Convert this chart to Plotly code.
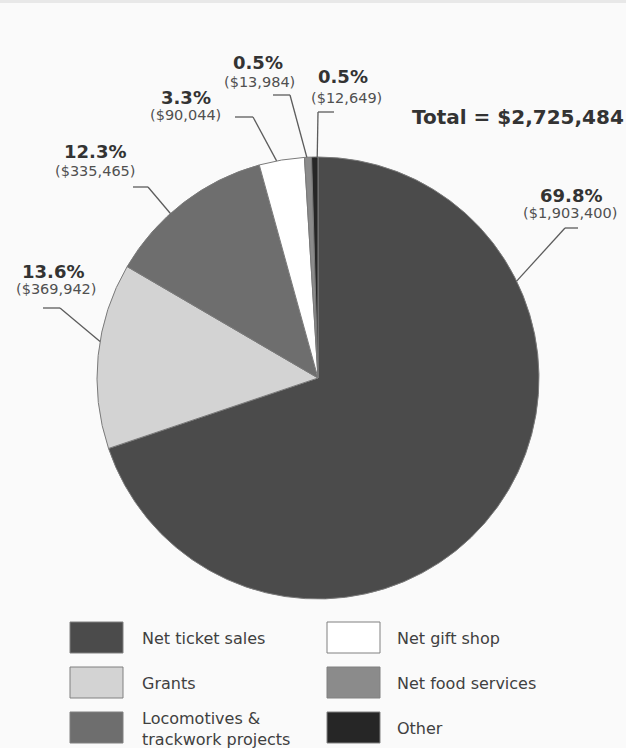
import math
import plotly.graph_objects as go

W, H = 626, 748

# ---- data -------------------------------------------------------------
categories = [
    "Net ticket sales",
    "Grants",
    "Locomotives &<br>trackwork projects",
    "Net gift shop",
    "Net food services",
    "Other",
]
amounts = [1903400, 369942, 335465, 90044, 13984, 12649]
slice_colors = ["#4b4b4b", "#d3d3d3", "#6e6e6e", "#ffffff", "#8b8b8b", "#262626"]

total = sum(amounts)

# ---- layout constants (pixels) ---------------------------------------
CX, CY, R = 318, 378, 221          # pie centre and radius

# per-slice callout: rim angle (deg clockwise from 12 o'clock), elbow, tail end,
# percentage label centre, amount label centre
callouts = [
    dict(rim=64.0,  elbow=(565, 228), tail=(578, 228), pct=(571, 195), amt=(570, 213)),
    dict(rim=279.5, elbow=(60, 308),  tail=(43, 308),  pct=(53, 271),  amt=(56, 289)),
    dict(rim=318.1, elbow=(148, 187), tail=(133, 187), pct=(95, 151),  amt=(95, 171)),
    dict(rim=349.2, elbow=(253, 117), tail=(235, 117), pct=(186, 98),  amt=(185, 115)),
    dict(rim=357.1, elbow=(290, 95),  tail=(273, 95),  pct=(258, 62),  amt=(259, 82)),
    dict(rim=359.8, elbow=(318, 112), tail=(334, 112), pct=(343, 77),  amt=(346, 98)),
]

# legend grid: swatch boxes and text positions
legend_cols = [(70, 140), (327, 395)]      # swatch left x, text left x
legend_rows = [622, 667, 712]              # swatch top y
SW_W, SW_H = 53, 31

TEXT_DARK = "#333333"
TEXT_MID = "#505050"
LINE_COL = "#5c5c5c"
FONT = "DejaVu Sans"


def px(x, y):
    return x / W, 1 - y / H


def rim_point(angle_deg):
    a = math.radians(angle_deg)
    return CX + R * math.sin(a), CY - R * math.cos(a)


fig = go.Figure(
    go.Pie(
        labels=[c.replace("<br>", " ") for c in categories],
        values=amounts,
        sort=False,
        direction="clockwise",
        rotation=0,
        marker=dict(colors=slice_colors, line=dict(color="#7a7a7a", width=1)),
        textinfo="none",
        hoverinfo="label+value+percent",
        showlegend=False,
        domain=dict(
            x=[(CX - R) / W, (CX + R) / W],
            y=[1 - (CY + R) / H, 1 - (CY - R) / H],
        ),
    )
)

shapes = []
annotations = []

# callout leaders and labels
for value, c in zip(amounts, callouts):
    rx, ry = rim_point(c["rim"])
    for (x0, y0), (x1, y1) in [((rx, ry), c["elbow"]), (c["elbow"], c["tail"])]:
        a0, b0 = px(x0, y0)
        a1, b1 = px(x1, y1)
        shapes.append(dict(type="line", xref="paper", yref="paper",
                           x0=a0, y0=b0, x1=a1, y1=b1,
                           line=dict(color=LINE_COL, width=1.3)))
    share = value / total * 100
    tx, ty = px(*c["pct"])
    annotations.append(dict(text=f"<b>{share:.1f}%</b>", x=tx, y=ty,
                            xref="paper", yref="paper", showarrow=False,
                            xanchor="center", yanchor="middle",
                            font=dict(family=FONT, size=18, color=TEXT_DARK)))
    tx, ty = px(*c["amt"])
    annotations.append(dict(text=f"(${value:,})", x=tx, y=ty,
                            xref="paper", yref="paper", showarrow=False,
                            xanchor="center", yanchor="middle",
                            font=dict(family=FONT, size=14.5, color=TEXT_MID)))

# total
tx, ty = px(518, 117)
annotations.append(dict(text=f"<b>Total = ${total:,}</b>", x=tx, y=ty,
                        xref="paper", yref="paper", showarrow=False,
                        xanchor="center", yanchor="middle",
                        font=dict(family=FONT, size=20, color=TEXT_DARK)))

# legend: two columns of three rows
for i, (name, color) in enumerate(zip(categories, slice_colors)):
    col, row = divmod(i, 3)
    sx, tx0 = legend_cols[col]
    sy = legend_rows[row]
    x0, y0 = px(sx, sy)
    x1, y1 = px(sx + SW_W, sy + SW_H)
    shapes.append(dict(type="rect", xref="paper", yref="paper",
                       x0=x0, y0=y1, x1=x1, y1=y0,
                       fillcolor=color, line=dict(color="#808080", width=1)))
    lx, ly = px(tx0, sy + SW_H / 2 + 1)
    annotations.append(dict(text=name, x=lx, y=ly, align="left",
                            xref="paper", yref="paper", showarrow=False,
                            xanchor="left", yanchor="middle",
                            font=dict(family=FONT, size=16, color="#404040")))

# faint scanner edge along the top of the page
shapes.append(dict(type="rect", xref="paper", yref="paper",
                   x0=0, x1=1, y0=1 - 3 / H, y1=1,
                   fillcolor="#e8e8e8", line=dict(width=0), layer="below"))

fig.update_layout(
    width=W,
    height=H,
    margin=dict(l=0, r=0, t=0, b=0),
    paper_bgcolor="#fafafa",
    plot_bgcolor="#fafafa",
    shapes=shapes,
    annotations=annotations,
)

fig.write_html("out.html")
